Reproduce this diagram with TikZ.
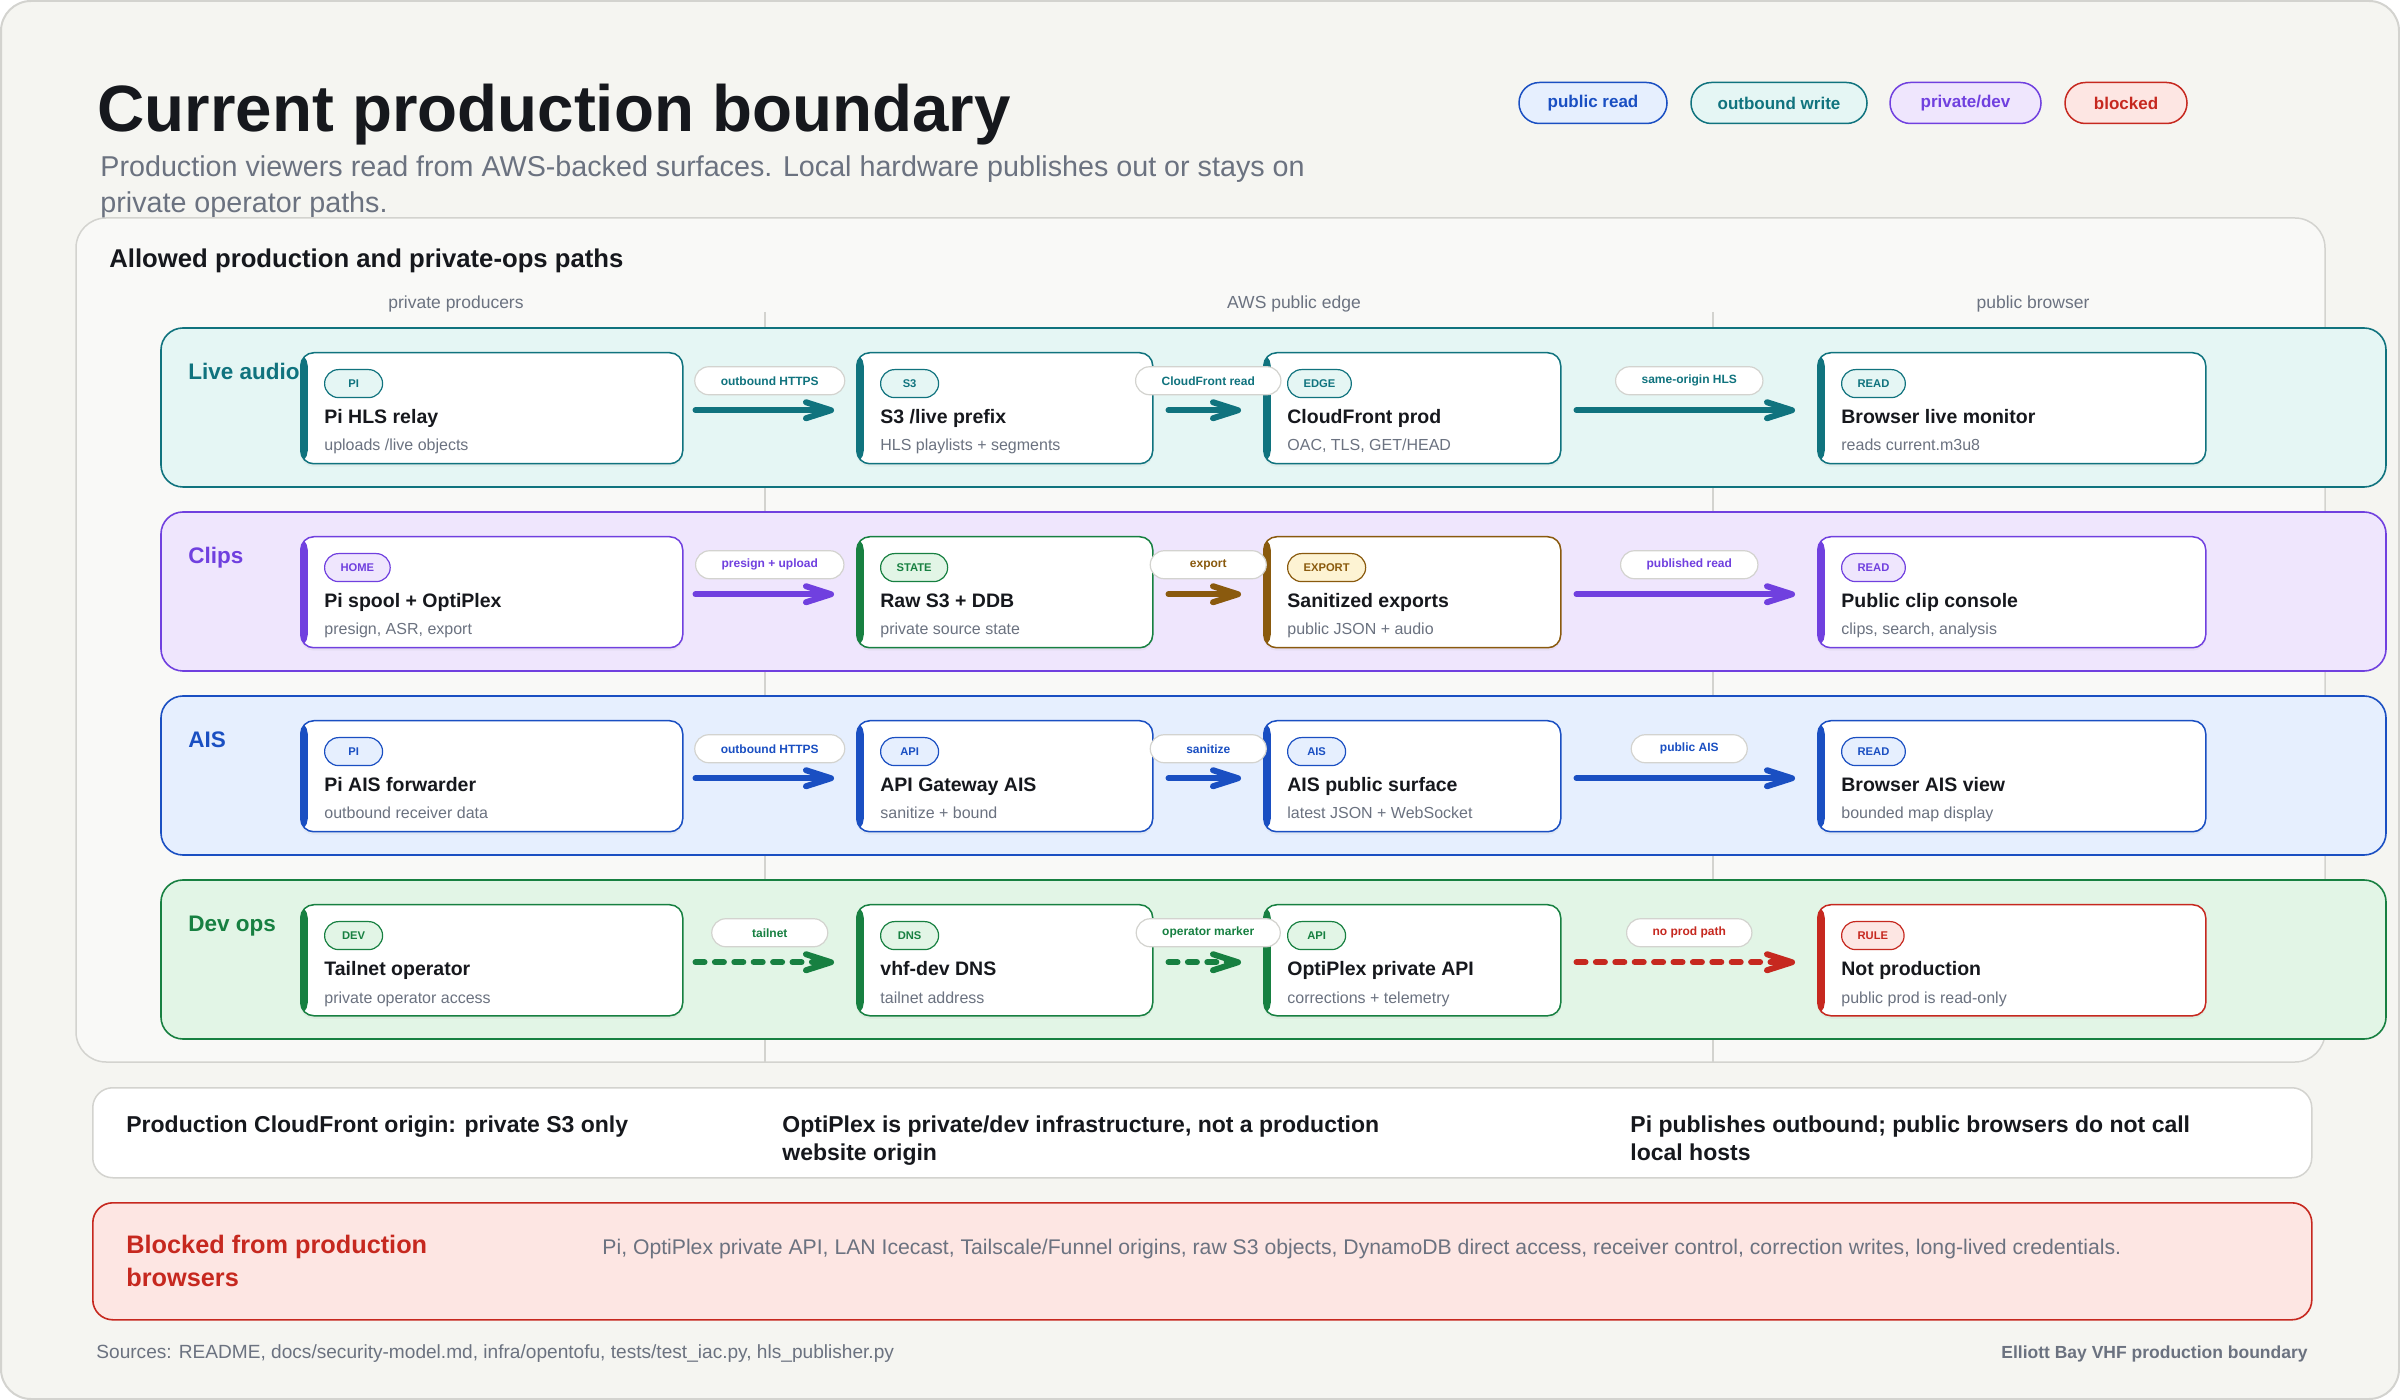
\documentclass[tikz,border=0pt]{standalone}
\usepackage{fontspec}
\setmainfont{Liberation Sans}
\usetikzlibrary{arrows.meta,shadows}
\definecolor{ink}{HTML}{16181D}
\definecolor{muted}{HTML}{6B7280}
\definecolor{cTeal}{HTML}{10737E}
\definecolor{fTeal}{HTML}{E5F6F4}
\definecolor{cPurp}{HTML}{7040DF}
\definecolor{fPurp}{HTML}{EFE6FD}
\definecolor{cBlue}{HTML}{1A4FC2}
\definecolor{fBlue}{HTML}{E6EFFE}
\definecolor{cGreen}{HTML}{178041}
\definecolor{fGreen}{HTML}{E2F5E6}
\definecolor{cAmber}{HTML}{8A5A0E}
\definecolor{fAmber}{HTML}{FDF3D3}
\definecolor{cRed}{HTML}{C6281F}
\definecolor{fRed}{HTML}{FDE6E3}
\definecolor{bgOuter}{HTML}{F5F5F1}
\definecolor{bgPanel}{HTML}{F9F9F7}
\definecolor{lineGray}{HTML}{D3D3CF}
\tikzset{
  txt/.style={inner sep=0pt, anchor=base west},
  lanebox/.style 2 args={draw=#1, fill=#2, line width=0.8pt, rounded corners=11pt},
  lanelabel/.style={txt, text=#1, font=\bfseries\fontsize{11.25pt}{13pt}\selectfont},
  card/.style={draw=#1, fill=white, line width=0.75pt, rounded corners=6.5pt,
    minimum height=55.5pt, inner sep=0pt, anchor=north west,
    drop shadow={shadow xshift=0pt, shadow yshift=-1.5pt, opacity=0.07},
    path picture={\fill[#1] (path picture bounding box.north west) rectangle ([xshift=3.5pt]path picture bounding box.south west);}},
  badge/.style 2 args={draw=#1, fill=#2, text=#1, line width=0.6pt, rounded corners=7pt,
    minimum height=14pt, minimum width=29pt, inner xsep=8pt, inner ysep=0pt, anchor=north west,
    font=\bfseries\fontsize{5.6pt}{6pt}\selectfont},
  ctitle/.style={txt, text=ink, font=\bfseries\fontsize{9.75pt}{11pt}\selectfont},
  csub/.style={txt, text=muted, font=\fontsize{8pt}{9pt}\selectfont},
  lbl/.style={draw=lineGray, fill=white, text=#1, line width=0.6pt, rounded corners=7pt,
    minimum height=14pt, minimum width=58pt, inner xsep=13pt, inner ysep=0pt,
    font=\bfseries\fontsize{6pt}{7pt}\selectfont},
  flow/.style={draw=#1, line width=3pt, line cap=round, shorten <=6pt, shorten >=11pt,
    transform canvas={yshift=-1pt},
    -{Straight Barb[length=12.5pt,width=8pt,round]}},
  dflow/.style={flow=#1, dash pattern=on 4.5pt off 5.2pt},
  legend/.style 2 args={draw=#1, fill=#2, text=#1, line width=0.75pt, rounded corners=10.2pt,
    minimum height=20.5pt, inner sep=0pt, font=\bfseries\fontsize{8.5pt}{10pt}\selectfont},
  colhead/.style={inner sep=0pt, anchor=base, text=muted, font=\fontsize{8.75pt}{10pt}\selectfont},
  infotxt/.style={txt, text=ink, font=\bfseries\fontsize{11.5pt}{13pt}\selectfont},
}
\newcommand\mkcard[9]{%
  \node[card=#5, minimum width=#4*0.5pt] (#1) at (#2,#3) {};
  \node[badge={#5}{#6}] (#1b) at ([xshift=12pt,yshift=-8.5pt]#1.north west) {#7};
  \node[ctitle] (#1t) at ([xshift=12pt,yshift=-36pt]#1.north west) {#8};
  \node[csub] (#1s) at ([xshift=12pt,yshift=-49.5pt]#1.north west) {#9};
}
\begin{document}
\begin{tikzpicture}[x=0.5pt,y=-0.5pt]
\useasboundingbox (0,0) rectangle (2400,1400);
\draw[fill=bgOuter, draw=lineGray, line width=1pt, rounded corners=15pt] (1,1) rectangle (2399,1399);

% header
\node[txt, text=ink, font=\bfseries\fontsize{32.75pt}{36pt}\selectfont] (title) at (97,132) {Current production boundary};
\node[txt, text=muted, font=\fontsize{14.35pt}{17pt}\selectfont] (sub1) at (100,177) {Production viewers read from AWS-backed surfaces. Local hardware publishes out or stays on};
\node[txt, text=muted, font=\fontsize{14.35pt}{17pt}\selectfont] (sub2) at (100,213) {private operator paths.};

\node[legend={cBlue}{fBlue}, minimum width=74pt] (lg1) at (1593,103) {public read};
\node[legend={cTeal}{fTeal}, minimum width=88pt] (lg2) at (1779,103) {outbound write};
\node[legend={cPurp}{fPurp}, minimum width=75.5pt] (lg3) at (1965.5,103) {private/dev};
\node[legend={cRed}{fRed}, minimum width=61pt] (lg4) at (2126,103) {blocked};

% panel
\draw[fill=bgPanel, draw=lineGray, line width=0.75pt, rounded corners=15pt] (76,218) rectangle (2325,1062);
\node[txt, text=ink, font=\bfseries\fontsize{12.85pt}{15pt}\selectfont] (ptitle) at (109,268) {Allowed production and private-ops paths};
\node[colhead] (h1) at (456,309) {private producers};
\node[colhead] (h2) at (1294,309) {AWS public edge};
\node[colhead] (h3) at (2033,309) {public browser};
\draw[lineGray, line width=0.75pt] (765,312) -- (765,1062);
\draw[lineGray, line width=0.75pt] (1713,312) -- (1713,1062);

% lanes
\draw[lanebox={cTeal}{fTeal}] (161,328) rectangle (2386,487);
\draw[lanebox={cPurp}{fPurp}] (161,512) rectangle (2386,671);
\draw[lanebox={cBlue}{fBlue}] (161,696) rectangle (2386,855);
\draw[lanebox={cGreen}{fGreen}] (161,880) rectangle (2386,1039);
\node[lanelabel=cTeal] (ln1) at (188,380) {Live audio};
\node[lanelabel=cPurp] (ln2) at (188,564) {Clips};
\node[lanelabel=cBlue] (ln3) at (188,748) {AIS};
\node[lanelabel=cGreen] (ln4) at (188,932) {Dev ops};

% cards
\mkcard{a1}{300}{352}{382}{cTeal}{fTeal}{PI}{Pi HLS relay}{uploads /live objects}
\mkcard{a2}{856}{352}{296}{cTeal}{fTeal}{S3}{S3 /live prefix}{HLS playlists + segments}
\mkcard{a3}{1263}{352}{297}{cTeal}{fTeal}{EDGE}{CloudFront prod}{OAC, TLS, GET/HEAD}
\mkcard{a4}{1817}{352}{388}{cTeal}{fTeal}{READ}{Browser live monitor}{reads current.m3u8}

\mkcard{b1}{300}{536}{382}{cPurp}{fPurp}{HOME}{Pi spool + OptiPlex}{presign, ASR, export}
\mkcard{b2}{856}{536}{296}{cGreen}{fGreen}{STATE}{Raw S3 + DDB}{private source state}
\mkcard{b3}{1263}{536}{297}{cAmber}{fAmber}{EXPORT}{Sanitized exports}{public JSON + audio}
\mkcard{b4}{1817}{536}{388}{cPurp}{fPurp}{READ}{Public clip console}{clips, search, analysis}

\mkcard{c1}{300}{720}{382}{cBlue}{fBlue}{PI}{Pi AIS forwarder}{outbound receiver data}
\mkcard{c2}{856}{720}{296}{cBlue}{fBlue}{API}{API Gateway AIS}{sanitize + bound}
\mkcard{c3}{1263}{720}{297}{cBlue}{fBlue}{AIS}{AIS public surface}{latest JSON + WebSocket}
\mkcard{c4}{1817}{720}{388}{cBlue}{fBlue}{READ}{Browser AIS view}{bounded map display}

\mkcard{d1}{300}{904}{382}{cGreen}{fGreen}{DEV}{Tailnet operator}{private operator access}
\mkcard{d2}{856}{904}{296}{cGreen}{fGreen}{DNS}{vhf-dev DNS}{tailnet address}
\mkcard{d3}{1263}{904}{297}{cGreen}{fGreen}{API}{OptiPlex private API}{corrections + telemetry}
\mkcard{d4}{1817}{904}{388}{cRed}{fRed}{RULE}{Not production}{public prod is read-only}

% connectors
\draw[flow=cTeal] (a1.east) -- (a2.west);
\draw[flow=cTeal, shorten <=7.5pt] (a2.east) -- (a3.west);
\draw[flow=cTeal, shorten <=7.5pt] (a3.east) -- (a4.west);
\draw[flow=cPurp] (b1.east) -- (b2.west);
\draw[flow=cAmber, shorten <=7.5pt] (b2.east) -- (b3.west);
\draw[flow=cPurp, shorten <=7.5pt] (b3.east) -- (b4.west);
\draw[flow=cBlue] (c1.east) -- (c2.west);
\draw[flow=cBlue, shorten <=7.5pt] (c2.east) -- (c3.west);
\draw[flow=cBlue, shorten <=7.5pt] (c3.east) -- (c4.west);
\draw[dflow=cGreen] (d1.east) -- (d2.west);
\draw[dflow=cGreen, shorten <=7.5pt] (d2.east) -- (d3.west);
\draw[dflow=cRed, shorten <=7.5pt] (d3.east) -- (d4.west);

% connector labels
\path (a1.east) -- (a2.west) node[midway, yshift=13.75pt, lbl=cTeal] (la1) {outbound HTTPS};
\path (a2.east) -- (a3.west) node[midway, yshift=13.75pt, lbl=cTeal] (la2) {CloudFront read};
\path (a3.east) -- (a4.west) node[midway, yshift=13.75pt, lbl=cTeal] (la3) {same-origin HLS};
\path (b1.east) -- (b2.west) node[midway, yshift=13.75pt, lbl=cPurp] (lb1) {presign + upload};
\path (b2.east) -- (b3.west) node[midway, yshift=13.75pt, lbl=cAmber] (lb2) {export};
\path (b3.east) -- (b4.west) node[midway, yshift=13.75pt, lbl=cPurp] (lb3) {published read};
\path (c1.east) -- (c2.west) node[midway, yshift=13.75pt, lbl=cBlue] (lc1) {outbound HTTPS};
\path (c2.east) -- (c3.west) node[midway, yshift=13.75pt, lbl=cBlue] (lc2) {sanitize};
\path (c3.east) -- (c4.west) node[midway, yshift=13.75pt, lbl=cBlue] (lc3) {public AIS};
\path (d1.east) -- (d2.west) node[midway, yshift=13.75pt, lbl=cGreen] (ld1) {tailnet};
\path (d2.east) -- (d3.west) node[midway, yshift=13.75pt, lbl=cGreen] (ld2) {operator marker};
\path (d3.east) -- (d4.west) node[midway, yshift=13.75pt, lbl=cRed] (ld3) {no prod path};

% info box
\node[draw=lineGray, fill=white, line width=0.75pt, rounded corners=10pt, minimum width=1109.5pt,
  minimum height=45pt, inner sep=0pt, anchor=north west] (infobox) at (92,1087) {};
\node[infotxt] (i1) at (126,1132) {Production CloudFront origin: private S3 only};
\node[infotxt] (i2a) at (782,1132) {OptiPlex is private/dev infrastructure, not a production};
\node[infotxt] (i2b) at (782,1160.5) {website origin};
\node[infotxt] (i3a) at (1630,1132) {Pi publishes outbound; public browsers do not call};
\node[infotxt] (i3b) at (1630,1160.5) {local hosts};

% blocked box
\node[draw=cRed, fill=fRed, line width=0.8pt, rounded corners=10pt, minimum width=1109.5pt,
  minimum height=58.5pt, inner sep=0pt, anchor=north west] (blockbox) at (92,1202) {};
\node[txt, text=cRed, font=\bfseries\fontsize{12.65pt}{15pt}\selectfont] (bl1) at (126,1253) {Blocked from production};
\node[txt, text=cRed, font=\bfseries\fontsize{12.65pt}{15pt}\selectfont] (bl2) at (126,1286) {browsers};
\node[txt, text=muted, font=\fontsize{10.6pt}{12pt}\selectfont] (bl3) at (602,1254) {Pi, OptiPlex private API, LAN Icecast, Tailscale/Funnel origins, raw S3 objects, DynamoDB direct access, receiver control, correction writes, long-lived credentials.};

% footer
\node[txt, text=muted, font=\fontsize{9.55pt}{11pt}\selectfont] (src) at (96,1358) {Sources: README, docs/security-model.md, infra/opentofu, tests/test\_iac.py, hls\_publisher.py};
\node[inner sep=0pt, anchor=base east, text=muted, font=\bfseries\fontsize{8.75pt}{10pt}\selectfont] (brand) at (2308,1358) {Elliott Bay VHF production boundary};
\end{tikzpicture}
\end{document}
